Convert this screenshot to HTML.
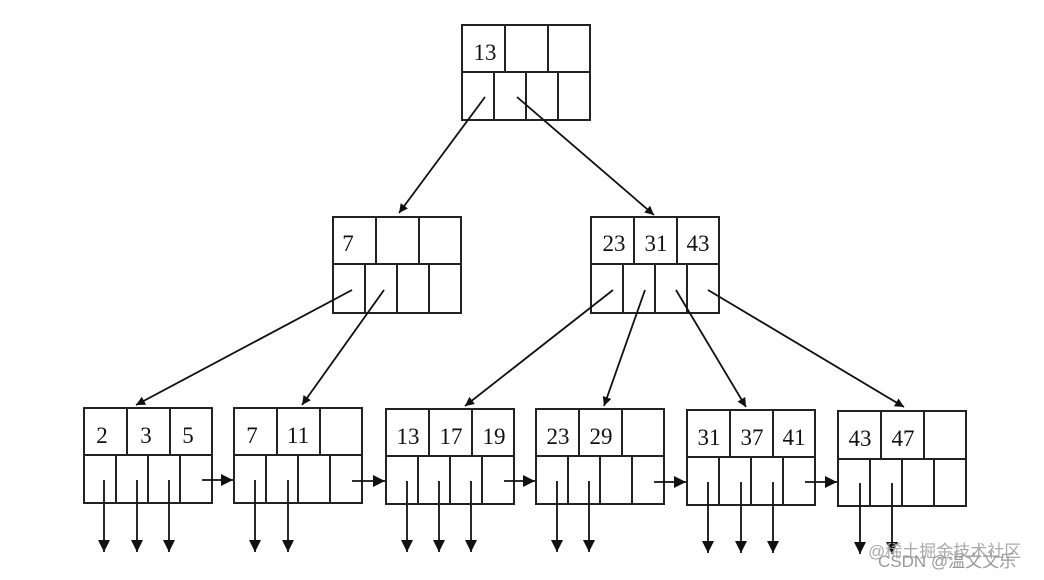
<!DOCTYPE html>
<html><head><meta charset="utf-8"><style>
html,body{margin:0;padding:0;background:#fff;}
svg{display:block}
text{font-family:"Liberation Serif",serif;font-size:23px;fill:#111}
</style></head><body>
<svg width="1044" height="580" viewBox="0 0 1044 580" xmlns="http://www.w3.org/2000/svg">
<defs><marker id="a" viewBox="0 0 10 10" refX="10" refY="5" markerWidth="14" markerHeight="9" orient="auto" markerUnits="userSpaceOnUse"><path d="M0,0 L10,5 L0,10 z" fill="#111"/></marker>
<marker id="b" viewBox="0 0 10 10" refX="10" refY="5" markerWidth="22" markerHeight="12" orient="auto" markerUnits="userSpaceOnUse"><path d="M0,0 L10,5 L0,10 z" fill="#111"/></marker></defs>
<g stroke="#222" stroke-width="2" fill="none">
<rect x="462" y="25" width="128" height="95"/><line x1="462" y1="72" x2="590" y2="72"/>
<line x1="505" y1="25" x2="505" y2="72"/><line x1="548" y1="25" x2="548" y2="72"/>
<line x1="494" y1="72" x2="494" y2="120"/><line x1="526" y1="72" x2="526" y2="120"/><line x1="558" y1="72" x2="558" y2="120"/>
<rect x="333" y="217" width="128" height="96"/><line x1="333" y1="264" x2="461" y2="264"/>
<line x1="376" y1="217" x2="376" y2="264"/><line x1="419" y1="217" x2="419" y2="264"/>
<line x1="365" y1="264" x2="365" y2="313"/><line x1="397" y1="264" x2="397" y2="313"/><line x1="429" y1="264" x2="429" y2="313"/>
<rect x="591" y="217" width="128" height="96"/><line x1="591" y1="264" x2="719" y2="264"/>
<line x1="634" y1="217" x2="634" y2="264"/><line x1="677" y1="217" x2="677" y2="264"/>
<line x1="623" y1="264" x2="623" y2="313"/><line x1="655" y1="264" x2="655" y2="313"/><line x1="687" y1="264" x2="687" y2="313"/>
</g>
<g stroke="#222" stroke-width="2" fill="none">
<g transform="translate(84,408)"><rect width="128" height="95"/><line x1="0" y1="47" x2="128" y2="47"/><line x1="43" y1="0" x2="43" y2="47"/><line x1="86" y1="0" x2="86" y2="47"/><line x1="32" y1="47" x2="32" y2="95"/><line x1="64" y1="47" x2="64" y2="95"/><line x1="96" y1="47" x2="96" y2="95"/></g>
<g transform="translate(234,408)"><rect width="128" height="95"/><line x1="0" y1="47" x2="128" y2="47"/><line x1="43" y1="0" x2="43" y2="47"/><line x1="86" y1="0" x2="86" y2="47"/><line x1="32" y1="47" x2="32" y2="95"/><line x1="64" y1="47" x2="64" y2="95"/><line x1="96" y1="47" x2="96" y2="95"/></g>
<g transform="translate(386,409)"><rect width="128" height="95"/><line x1="0" y1="47" x2="128" y2="47"/><line x1="43" y1="0" x2="43" y2="47"/><line x1="86" y1="0" x2="86" y2="47"/><line x1="32" y1="47" x2="32" y2="95"/><line x1="64" y1="47" x2="64" y2="95"/><line x1="96" y1="47" x2="96" y2="95"/></g>
<g transform="translate(536,409)"><rect width="128" height="95"/><line x1="0" y1="47" x2="128" y2="47"/><line x1="43" y1="0" x2="43" y2="47"/><line x1="86" y1="0" x2="86" y2="47"/><line x1="32" y1="47" x2="32" y2="95"/><line x1="64" y1="47" x2="64" y2="95"/><line x1="96" y1="47" x2="96" y2="95"/></g>
<g transform="translate(687,410)"><rect width="128" height="95"/><line x1="0" y1="47" x2="128" y2="47"/><line x1="43" y1="0" x2="43" y2="47"/><line x1="86" y1="0" x2="86" y2="47"/><line x1="32" y1="47" x2="32" y2="95"/><line x1="64" y1="47" x2="64" y2="95"/><line x1="96" y1="47" x2="96" y2="95"/></g>
<g transform="translate(838,411)"><rect width="128" height="95"/><line x1="0" y1="48" x2="128" y2="48"/><line x1="43" y1="0" x2="43" y2="48"/><line x1="86" y1="0" x2="86" y2="48"/><line x1="32" y1="48" x2="32" y2="95"/><line x1="64" y1="48" x2="64" y2="95"/><line x1="96" y1="48" x2="96" y2="95"/></g>
</g>
<g stroke="#111" stroke-width="1.8" fill="none">
<line x1="485" y1="97" x2="399" y2="213" marker-end="url(#a)"/>
<line x1="517" y1="97" x2="654" y2="215" marker-end="url(#a)"/>
<line x1="352" y1="290" x2="136" y2="405" marker-end="url(#a)"/>
<line x1="384" y1="290" x2="302" y2="405" marker-end="url(#a)"/>
<line x1="613" y1="290" x2="465" y2="406" marker-end="url(#a)"/>
<line x1="645" y1="290" x2="604" y2="406" marker-end="url(#a)"/>
<line x1="676" y1="290" x2="746" y2="407" marker-end="url(#a)"/>
<line x1="708" y1="290" x2="904" y2="407" marker-end="url(#a)"/>
<line x1="202" y1="480" x2="233" y2="480" marker-end="url(#b)"/>
<line x1="352" y1="481" x2="385" y2="481" marker-end="url(#b)"/>
<line x1="504" y1="481" x2="535" y2="481" marker-end="url(#b)"/>
<line x1="654" y1="482" x2="686" y2="482" marker-end="url(#b)"/>
<line x1="805" y1="482" x2="837" y2="482" marker-end="url(#b)"/>
</g>
<g stroke="#111" stroke-width="1.8">
<line x1="104" y1="480" x2="104" y2="552" marker-end="url(#b)"/>
<line x1="137" y1="480" x2="137" y2="552" marker-end="url(#b)"/>
<line x1="169" y1="480" x2="169" y2="552" marker-end="url(#b)"/>
<line x1="255" y1="480" x2="255" y2="552" marker-end="url(#b)"/>
<line x1="288" y1="480" x2="288" y2="552" marker-end="url(#b)"/>
<line x1="407" y1="481" x2="407" y2="552" marker-end="url(#b)"/>
<line x1="439" y1="481" x2="439" y2="552" marker-end="url(#b)"/>
<line x1="471" y1="481" x2="471" y2="552" marker-end="url(#b)"/>
<line x1="557" y1="481" x2="557" y2="552" marker-end="url(#b)"/>
<line x1="589" y1="481" x2="589" y2="552" marker-end="url(#b)"/>
<line x1="708" y1="482" x2="708" y2="553" marker-end="url(#b)"/>
<line x1="741" y1="482" x2="741" y2="553" marker-end="url(#b)"/>
<line x1="773" y1="482" x2="773" y2="553" marker-end="url(#b)"/>
<line x1="860" y1="483" x2="860" y2="554" marker-end="url(#b)"/>
<line x1="892" y1="483" x2="892" y2="554" marker-end="url(#b)"/>
</g>
<g text-anchor="middle">
<text x="485" y="60">13</text>
<text x="348" y="251">7</text>
<text x="614" y="251">23</text><text x="656" y="251">31</text><text x="698" y="251">43</text>
<text x="102" y="443">2</text><text x="146" y="443">3</text><text x="188" y="443">5</text>
<text x="252" y="443">7</text><text x="298" y="443">11</text>
<text x="408" y="444">13</text><text x="451" y="444">17</text><text x="494" y="444">19</text>
<text x="558" y="444">23</text><text x="601" y="444">29</text>
<text x="709" y="445">31</text><text x="752" y="445">37</text><text x="794" y="445">41</text>
<text x="860" y="446">43</text><text x="903" y="446">47</text>
</g>
<text x="868" y="557" style="font-family:'Liberation Sans','Noto Sans CJK SC',sans-serif;font-size:17px;fill:#aaa">@稀土掘金技术社区</text>
<text x="878" y="567" style="font-family:'Liberation Sans','Noto Sans CJK SC',sans-serif;font-size:17px;fill:#999">CSDN @温文文乐</text>
</svg>
</body></html>
